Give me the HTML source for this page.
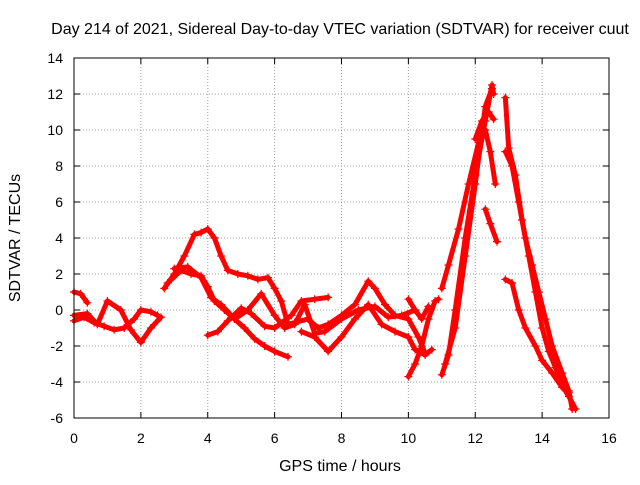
<!DOCTYPE html>
<html><head><meta charset="utf-8"><style>
body{margin:0;background:#fff;}
svg text{font-family:"Liberation Sans",sans-serif;fill:#000;}
</style></head><body>
<svg id="chart" width="640" height="480" viewBox="0 0 640 480" xmlns="http://www.w3.org/2000/svg">
<rect width="640" height="480" fill="#fff"/>
<text x="340" y="34" font-size="16" text-anchor="middle">Day 214 of 2021, Sidereal Day-to-day VTEC variation (SDTVAR) for receiver cuut</text>
<text x="340" y="471" font-size="16" text-anchor="middle">GPS time / hours</text>
<text x="0" y="0" font-size="16" text-anchor="middle" transform="translate(20,238) rotate(-90)">SDTVAR / TECUs</text>
<g id="grid"></g>
<g id="ticks"></g>
<g id="series"></g>
<rect x="74" y="58" width="535" height="360" fill="none" stroke="#000" stroke-width="1"/>
</svg>
<script>
const xTicks=[0,2,4,6,8,10,12,14,16];
const yTicks=[-6,-4,-2,0,2,4,6,8,10,12,14];
const s1=[[0,-0.6],[0.3,-0.4],[0.6,-0.7],[0.9,-0.9],[1.2,-1.1],[1.5,-1.0],[1.8,-0.5],[2.0,0.0],[2.3,-0.1],[2.5,-0.3]];
const s2=[[0,-0.3],[0.4,-0.2],[0.7,-0.8],[1.0,0.5],[1.4,0.0],[1.7,-1.1],[2.0,-1.8],[2.3,-1.0],[2.6,-0.4]];
const s0=[[0,1.0],[0.2,0.9],[0.4,0.4]];
const s3=[[2.7,1.2],[3.0,2.0],[3.3,3.0],[3.6,4.2],[3.8,4.3],[4.0,4.5],[4.2,4.0],[4.4,3.0],[4.6,2.2],[4.9,2.0],[5.2,1.9],[5.5,1.7],[5.8,1.8],[6.0,1.2],[6.2,0.5],[6.4,-0.8],[6.6,-0.7],[7.0,-0.5],[7.3,-1.0],[7.6,-0.8],[8.0,-0.3],[8.4,0.3],[8.8,1.6],[9.0,1.2],[9.3,0.3],[9.6,-0.3],[10.0,-0.5],[10.3,-1.5],[10.5,-2.4]];
const s4=[[2.8,1.5],[3.2,2.2],[3.5,2.0],[3.8,1.9],[4.0,1.3],[4.2,0.5],[4.5,0.0],[4.8,-0.5],[5.1,-1.0],[5.4,-1.6],[5.7,-2.0],[6.0,-2.3],[6.4,-2.6]];
const s5=[[3.0,2.3],[3.4,2.4],[3.8,1.8],[4.1,0.7],[4.4,0.3],[4.8,-0.5],[5.2,0.0],[5.6,0.9],[6.0,-0.3],[6.3,-1.0],[6.6,-0.8],[6.9,0.3],[7.2,-1.3],[7.5,-1.2],[8.0,-0.5],[8.5,0.0],[9.0,0.2],[9.4,-0.4],[9.8,-0.3],[10.2,0.0]];
const s6=[[4.0,-1.4],[4.3,-1.2],[4.6,-0.6],[5.0,0.1],[5.3,-0.2],[5.7,-0.9],[6.0,-1.0],[6.5,-0.3],[6.8,0.5],[7.2,0.6],[7.6,0.7]];
const s8=[[6.8,-1.2],[7.2,-1.5],[7.6,-2.3],[8.0,-1.5],[8.4,-0.5],[8.8,0.3],[9.2,-0.8],[9.6,-1.2],[10.0,-1.5],[10.2,-2.2],[10.5,-2.5],[10.7,-2.2]];
const s9=[[10.0,-3.7],[10.2,-3.0],[10.4,-2.0],[10.6,-0.5],[10.8,0.5],[10.9,0.6]];
const s10=[[10.0,0.6],[10.2,0.0],[10.4,-0.5],[10.6,0.2]];
const s11=[[11.0,-3.6],[11.2,-2.5],[11.4,0.0],[11.7,4.0],[12.0,7.5],[12.3,10.5],[12.5,12.5],[12.55,12.0]];
const s12=[[11.0,1.2],[11.2,2.5],[11.5,4.5],[11.8,7.0],[12.1,9.3],[12.3,10.0],[12.45,8.8],[12.6,7.0]];
const s13=[[11.1,-3.0],[11.4,-1.0],[11.7,3.0],[12.0,7.0],[12.3,11.3],[12.5,12.3]];
const s14=[[12.0,9.5],[12.2,10.5],[12.4,11.0],[12.55,10.6]];
const s14b=[[12.3,5.6],[12.45,4.8],[12.65,3.8]];
const s15=[[12.9,11.8],[13.0,9.0],[13.2,7.5],[13.4,5.0],[13.6,3.0],[13.8,1.0],[14.0,-1.0],[14.2,-2.3],[14.4,-3.2],[14.6,-4.2],[14.8,-4.8],[15.0,-5.5]];
const s16=[[12.9,8.8],[13.1,8.0],[13.3,6.0],[13.5,4.0],[13.7,2.5],[13.9,1.0],[14.1,-0.5],[14.3,-2.0],[14.6,-3.5],[14.8,-4.5],[14.9,-5.5]];
const s17=[[12.9,1.7],[13.1,1.5],[13.3,0.0],[13.5,-1.0],[13.8,-2.0],[14.0,-2.8],[14.3,-3.5],[14.6,-4.3],[14.8,-4.6]];
const allSeries=[s0,s1,s2,s3,s4,s5,s6,s8,s9,s10,s11,s12,s13,s14,s14b,s15,s16,s17];

const X0=74,X1=609,Y0=418,Y1=58;
function xs(v){return X0+(v-0)/(16-0)*(X1-X0);}
function ys(v){return Y0-(v-(-6))/(14-(-6))*(Y0-Y1);}
const NS='http://www.w3.org/2000/svg';
const grid=document.getElementById('grid'),ticks=document.getElementById('ticks'),ser=document.getElementById('series');
function mk(tag,attrs,parent){const e=document.createElementNS(NS,tag);for(const k in attrs)e.setAttribute(k,attrs[k]);parent.appendChild(e);return e;}
xTicks.forEach(t=>{
  const x=xs(t);
  if(t>0&&t<16){const g=mk('line',{x1:x,x2:x,y1:Y1,y2:Y0,stroke:'#a0a0a0','stroke-dasharray':'1,2'},grid);
  
  }
  const tl=mk('text',{x:x,y:443,'font-size':'14','text-anchor':'middle'},ticks);tl.textContent=t;
  
  
  mk('line',{x1:x,x2:x,y1:Y0,y2:Y0-6,stroke:'#000'},ticks);
  mk('line',{x1:x,x2:x,y1:Y1,y2:Y1+6,stroke:'#000'},ticks);
});
yTicks.forEach(t=>{
  const y=ys(t);
  if(t>-6&&t<14){const g=mk('line',{x1:X0,x2:X1,y1:y,y2:y,stroke:'#a0a0a0','stroke-dasharray':'1,2'},grid);
  
  }
  const tl=mk('text',{x:63,y:y+5,'font-size':'14','text-anchor':'end'},ticks);tl.textContent=t;
  
  
  mk('line',{x1:X0,x2:X0+6,y1:y,y2:y,stroke:'#000'},ticks);
  mk('line',{x1:X1,x2:X1-6,y1:y,y2:y,stroke:'#000'},ticks);
});
allSeries.forEach(s=>{
  const pts=s.map(p=>xs(p[0])+','+ys(p[1])).join(' ');
  const pl=mk('polyline',{points:pts,fill:'none',stroke:'#f00','stroke-width':'5','stroke-linejoin':'round','stroke-linecap':'round'},ser);
  
  
  s.forEach(p=>{
    const x=xs(p[0]),y=ys(p[1]);
    const m=mk('path',{d:`M${x-4},${y}H${x+4}M${x},${y-4}V${y+4}`,stroke:'#f00','stroke-width':'1.2'},ser);
    
    
  });
});
</script>
</body></html>
